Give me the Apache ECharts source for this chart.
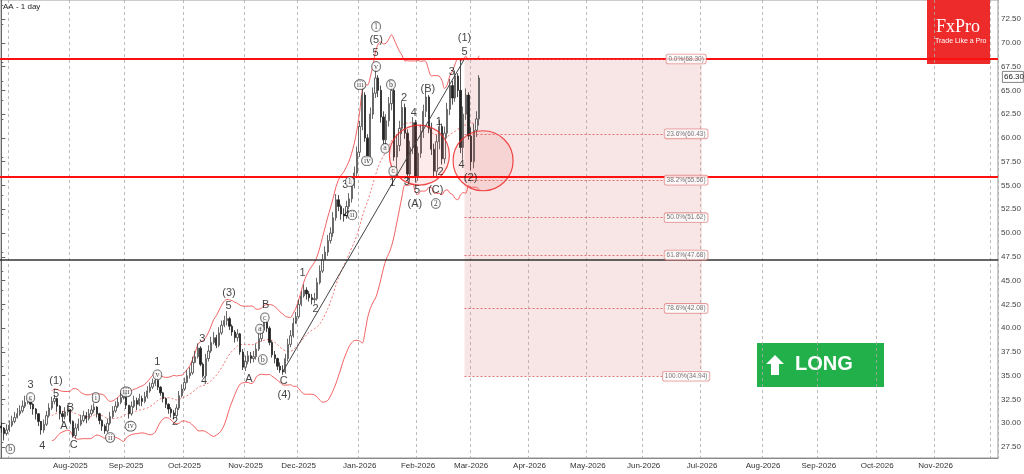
<!DOCTYPE html>
<html><head><meta charset="utf-8">
<script src="https://cdn.jsdelivr.net/npm/echarts@6/dist/echarts.min.js"></script>
<style>html,body{margin:0;padding:0;background:#fff}#c{width:1024px;height:474px}</style>
</head><body><div id="c"></div>
<script>
const closes=[29.5,28.9,29.3,29.8,30.2,30.6,31.0,31.3,31.8,32.2,
32.6,32.0,31.5,31.0,30.2,29.3,29.9,30.8,31.6,32.3,
32.6,31.8,31.0,30.7,31.2,31.4,30.2,28.7,29.5,29.9,
30.3,30.8,30.5,31.0,31.4,31.7,31.0,30.3,29.7,29.2,
30.0,30.7,31.3,31.8,32.2,32.7,33.1,31.9,31.0,31.8,
32.4,32.0,32.6,32.3,32.8,33.4,33.8,34.2,34.5,33.8,
33.2,32.6,32.0,31.5,31.1,30.8,31.6,32.9,33.6,34.3,
35.0,35.3,36.4,37.0,37.9,36.2,35.0,36.8,37.6,38.5,
39.0,38.2,39.5,40.3,40.8,41.0,40.2,39.6,39.0,39.4,
37.5,35.9,36.5,37.1,36.8,37.0,37.8,38.9,39.8,40.6,
40.0,38.5,37.2,36.8,36.0,35.6,35.4,36.8,38.3,39.2,
40.5,41.2,42.5,43.4,44.0,43.6,43.2,43.0,43.1,44.8,
46.0,47.2,48.0,49.2,50.0,51.6,53.5,52.8,52.0,51.8,
52.8,53.6,55.0,56.3,58.5,61.2,64.5,60.0,57.9,62.5,
64.7,66.3,65.0,62.2,59.8,61.8,63.6,65.0,58.0,59.2,
61.0,63.2,60.5,56.2,59.0,61.6,56.0,58.4,60.7,62.8,
64.3,61.0,58.8,56.5,59.6,61.2,57.8,60.5,63.0,65.5,
64.2,66.5,65.0,59.0,62.5,64.5,60.2,57.5,60.8,62.0,66.3];
const highs=[30.1,29.6,29.9,30.3,30.8,31.2,31.6,31.9,32.4,32.9,
33.1,32.8,32.1,31.6,30.9,30.1,30.4,31.3,32.1,32.8,
33.0,32.7,31.9,31.3,31.7,31.9,31.5,30.3,30.0,30.5,
30.9,31.3,31.2,31.5,31.9,32.1,31.8,31.1,30.4,29.9,
30.5,31.2,31.8,32.3,32.7,33.2,33.6,33.3,31.9,32.3,
32.9,32.7,33.1,32.9,33.3,33.9,34.3,34.7,35.0,34.6,
33.9,33.3,32.7,32.1,31.7,31.4,32.0,33.4,34.1,34.8,
35.6,35.9,37.0,37.6,38.4,38.1,36.4,37.3,38.2,39.1,
39.6,39.3,40.1,40.8,41.3,41.8,41.2,40.4,39.8,39.9,
39.5,37.8,37.1,37.6,37.5,37.6,38.4,39.5,40.4,41.0,
40.8,40.2,38.7,37.6,36.9,36.4,36.1,37.3,38.9,39.8,
41.1,41.7,43.0,43.9,44.6,44.3,43.9,43.6,43.7,45.3,
46.6,47.8,48.6,49.8,50.6,52.2,54.1,54.0,53.0,52.6,
53.4,54.2,55.6,57.0,59.1,61.8,65.3,64.8,60.4,63.2,
65.3,67.2,66.6,65.5,62.8,62.5,64.3,65.8,65.4,60.3,
61.8,63.9,63.6,60.9,59.7,62.2,61.9,59.1,61.4,63.5,
64.9,64.5,61.6,59.4,60.3,61.9,61.5,61.2,63.7,66.2,
66.0,67.1,66.8,68.3,63.3,65.2,64.8,61.1,61.5,62.8,66.6];
const lows=[29.0,28.2,28.7,29.1,29.6,30.0,30.5,30.8,31.1,31.6,
32.0,31.5,30.9,30.4,29.7,28.8,29.0,29.7,30.6,31.4,
32.0,31.2,30.4,30.1,30.4,30.8,29.9,28.5,28.4,29.2,
29.7,30.1,30.0,30.3,30.8,31.1,30.6,29.9,29.2,28.9,
29.0,29.8,30.5,31.1,31.6,32.0,32.5,31.5,30.5,30.8,
31.6,31.4,31.8,31.8,32.1,32.6,33.2,33.6,33.9,33.5,
32.9,32.2,31.6,31.0,30.6,30.4,30.6,31.4,32.7,33.4,
34.2,34.7,35.1,36.3,36.8,36.0,34.8,34.9,36.5,37.4,
38.3,37.9,38.0,39.3,40.1,40.3,39.8,39.2,38.5,38.6,
37.2,35.6,35.5,36.2,36.3,36.4,36.7,37.6,38.6,39.5,
39.6,38.2,36.9,36.3,35.6,35.3,35.1,35.2,36.5,38.0,
39.0,40.7,41.0,42.3,43.2,43.0,42.8,42.5,42.6,42.9,
44.6,45.8,47.2,47.6,48.9,49.6,51.3,52.3,51.4,51.2,
51.5,52.5,53.2,54.7,56.0,58.0,60.8,59.6,57.3,57.6,
62.0,64.2,64.3,61.6,59.1,59.3,61.2,62.9,57.6,56.6,
58.6,60.4,59.9,55.6,55.4,58.3,55.3,55.5,57.9,60.0,
62.2,60.5,58.2,55.9,56.0,58.8,57.2,57.3,60.0,62.4,
63.5,63.8,64.3,58.4,57.7,61.9,59.8,56.6,56.8,60.1,61.3];
const yTicks=[27.5,30,32.5,35,37.5,40,42.5,45,47.5,50,52.5,55,57.5,60,62.5,65,67.5,70,72.5];
const fibPct=['0.0%','23.6%','38.2%','50.0%','61.8%','78.6%','100.0%'];
const fibLvl=[68.30,60.43,55.56,51.62,47.68,42.08,34.94];
const hRed=[68.3,55.9];
const hBlack=[47.2];
const trendLine=[[106,35.4],[174.5,68.3]];
const circles=[[157.5,58.2],[181.5,57.6]];
// [x index, price, text, circled]
const waveLabels=[
[3.4,27.3,'b',1],[11,34.0,'3',0],[11,32.7,'c',1],[15.4,27.6,'4',0],
[20.6,34.4,'(1)',0],[20.6,33.1,'5',0],[26,31.6,'B',0],[23.6,29.7,'A',0],
[27.3,27.7,'C',0],[27.3,26.3,'(2)',0],[35.6,32.7,'i',1],[41,28.5,'ii',1],
[47,33.3,'iii',1],[48.7,29.7,'iv',1],[58.8,35.1,'v',1],[58.8,36.4,'1',0],
[65.5,30.1,'2',0],[75.7,38.9,'3',0],[76.4,34.5,'4',0],[85.8,43.7,'(3)',0],
[85.6,42.3,'5',0],[99.6,42.4,'B',0],[99.3,41.1,'c',1],[97.4,39.9,'a',1],
[98.5,36.7,'b',1],[93.3,34.7,'A',0],[106.4,34.5,'C',0],[106.6,33.0,'(4)',0],
[113.5,45.8,'1',0],[118.4,42.0,'2',0],[129.6,55.1,'3',0],[131.3,55.4,'1',1],
[130.3,51.9,'4',0],[132.2,51.9,'ii',1],[135.2,65.6,'iii',1],[137.8,57.6,'iv',1],
[141.2,67.5,'v',1],[141,68.9,'5',0],[141.2,70.3,'(5)',0],[141.2,71.7,'1',1],
[146.8,65.6,'b',1],[144.6,58.9,'a',1],[147.6,56.5,'c',1],[147.3,55.3,'1',0],
[151.7,64.2,'2',0],[152.8,55.4,'3',0],[155.4,62.6,'4',0],[156.6,54.5,'5',0],
[155.8,53.1,'(A)',0],[160.7,65.1,'(B)',0],[164.8,61.7,'1',0],[165.5,56.4,'2',0],
[163.7,54.5,'(C)',0],[163.7,53.1,'2',1],[169.7,66.9,'3',0],[174.5,70.5,'(1)',0],
[174.5,69.0,'5',0],[173.4,57.2,'4',0],[176.8,55.8,'(2)',0]];

const N=376, YMIN=26.35, YMAX=74.5;
const mon=['Jan','Feb','Mar','Apr','May','Jun','Jul','Aug','Sep','Oct','Nov','Dec'];
const dates=[]; const first=[];
let d=new Date(Date.UTC(2025,5,26)); let prevM=-1;
while(dates.length<N){const wd=d.getUTCDay(); if(wd>0&&wd<6){const m=d.getUTCMonth(); first.push(m!==prevM&&prevM!==-1); prevM=m; dates.push(mon[m]+'-'+d.getUTCFullYear());} d=new Date(d.getTime()+86400000);}
const isGrid=(i)=>first[i];
const isLab=(i)=>first[i]&&i>10&&i<N-15;
const ohlc=closes.map((c,i)=>[i===0?29.7:closes[i-1],c,lows[i],highs[i]]);
function boll(k){const out=[];for(let i=0;i<closes.length;i++){if(i<19){out.push(null);continue;}const s=closes.slice(i-19,i+1);const m=s.reduce((a,b)=>a+b,0)/20;const sd=Math.sqrt(s.reduce((a,b)=>a+(b-m)*(b-m),0)/20);out.push(+(m+k*sd).toFixed(2));}return out;}
const labelData=waveLabels.map(w=>({value:[w[0],w[1]],label:w[3]?{formatter:w[2],fontFamily:'Liberation Serif',fontSize:8,color:'#222',borderColor:'#333',borderWidth:0.8,borderRadius:7,padding:[1,2,0,2],backgroundColor:'#fff'}:{formatter:w[2],fontSize:11,color:'#111'}}));
const fibLabelData=fibLvl.map((v,i)=>({value:[258,v],label:{formatter:fibPct[i]+'('+v.toFixed(2)+')'}}));
const fibLines=fibLvl.map(v=>[{coord:[174.5,v]},{coord:[264,v]}]);
const chart=echarts.init(document.getElementById('c'));
chart.setOption({
animation:false,
grid:{left:0,right:22,top:0,bottom:16,show:true,borderColor:'#999',borderWidth:1},
xAxis:[{type:'category',data:dates,boundaryGap:true,
 axisLine:{lineStyle:{color:'#888'}},axisTick:{show:false},
 axisLabel:{interval:isLab,fontSize:8,color:'#333',margin:4,fontFamily:'Liberation Sans'},
 splitLine:{show:true,interval:isGrid,lineStyle:{color:'#aaa',type:[3,3],width:0.8}}},
 {type:'value',min:-0.5,max:N-0.5,show:false}],
yAxis:{type:'value',position:'right',min:YMIN,max:YMAX,scale:true,
 axisLine:{show:true,lineStyle:{color:'#666'}},
 axisTick:{show:true,customValues:yTicks,length:4,inside:false,lineStyle:{color:'#666'}},
 minorTick:{show:true,splitNumber:5,length:2},
 axisLabel:{customValues:yTicks,formatter:v=>v.toFixed(2),fontSize:8,color:'#444',margin:3,fontFamily:'Liberation Sans'},
 splitLine:{show:false}},
graphic:[
 {type:'text',left:3,top:3,style:{text:'AA - 1 day',fontSize:8,fill:'#222',fontFamily:'Liberation Sans'}},
 {type:'rect',left:927,top:0,shape:{width:63,height:64},style:{fill:'#ee2b2b'}},
 {type:'text',left:936,top:18,style:{text:'FxPro',fontSize:18,fill:'#fff',fontFamily:'Liberation Serif'}},
 {type:'text',left:935,top:38,style:{text:'Trade Like a Pro',fontSize:7,fill:'#fff',fontFamily:'Liberation Sans'}},
 {type:'rect',left:757,top:343,shape:{width:127,height:44},style:{fill:'#22b04b'}},
 {type:'polygon',shape:{points:[[775,355],[784,364],[779,364],[779,375],[771,375],[771,364],[766,364]]},style:{fill:'#fff'}},
 {type:'text',left:795,top:354,style:{text:'LONG',fontSize:20,fontWeight:'bold',fill:'#fff',fontFamily:'Liberation Sans'}},
 {type:'rect',left:1002,top:71,shape:{width:21,height:11},style:{fill:'#fff',stroke:'#666',lineWidth:0.8},z:100},
 {type:'text',left:1004,top:73,style:{text:'66.30',fontSize:8,fill:'#222',fontFamily:'Liberation Sans'},z:101}
],
series:[
 {type:'candlestick',data:ohlc,barWidth:1.8,
  itemStyle:{color:'#fff',color0:'#222',borderColor:'#444',borderColor0:'#222',borderWidth:0.8},
  markLine:{silent:true,symbol:'none',label:{show:false},
   data:[...hRed.map(v=>({yAxis:v,lineStyle:{color:'#ff1010',width:2,type:'solid'}})),...hBlack.map(v=>({yAxis:v,lineStyle:{color:'#333',width:1.5,type:'solid'}}))]}},
 {type:'line',data:boll(2.4),symbol:'none',smooth:0.3,lineStyle:{color:'#f05050',width:0.9},z:1},
 {type:'line',data:boll(0),symbol:'none',smooth:0.3,lineStyle:{color:'#f05050',width:0.8,type:[2,2]},z:1},
 {type:'line',data:boll(-2.4),symbol:'none',smooth:0.3,lineStyle:{color:'#f05050',width:0.9},z:1},
 {type:'line',xAxisIndex:1,data:[],symbol:'none',
  markArea:{silent:true,itemStyle:{color:'rgba(225,140,140,0.22)'},data:[[{coord:[174.5,68.3]},{coord:[264,34.94]}]]},
  markLine:{silent:true,symbol:'none',label:{show:false},lineStyle:{color:'#e05555',type:[2,2],width:0.8},data:fibLines}},
 {type:'line',xAxisIndex:1,data:trendLine,symbol:'none',lineStyle:{color:'#444',width:1}},
 {type:'scatter',xAxisIndex:1,data:circles,symbolSize:60,itemStyle:{color:'rgba(240,80,80,0.15)',borderColor:'#ee2020',borderWidth:1.2}},
 {type:'scatter',xAxisIndex:1,data:labelData,symbolSize:0,z:20,label:{show:true,position:'inside'}},
 {type:'scatter',xAxisIndex:1,data:fibLabelData,symbolSize:0,z:20,label:{show:true,position:'inside',fontSize:6.5,color:'#555',backgroundColor:'#fff',borderColor:'#e08080',borderWidth:0.8,borderRadius:2,padding:[1,2]}}
]});
</script></body></html>
